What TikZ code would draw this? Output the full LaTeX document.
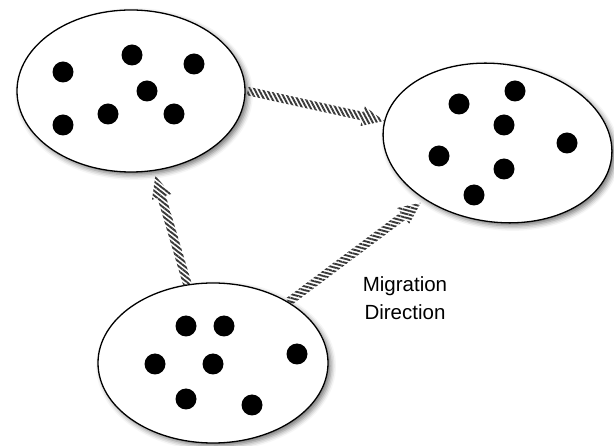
\documentclass[tikz,border=0pt]{standalone}
\usepackage{fontspec}
\setmainfont{Liberation Sans}
\usetikzlibrary{shapes.geometric,shadows.blur,patterns.meta,calc}
\tikzset{
  pop/.style={ellipse, draw=black, line width=1.3pt, fill=white, inner sep=0pt,
    blur shadow={shadow xshift=3pt, shadow yshift=-3pt, shadow blur radius=5pt, shadow opacity=55}},
  ind/.style={fill=black},
  stripes/.style={pattern={Lines[angle=#1,distance=3.7pt,line width=1.9pt]}, pattern color=black!78},
  lbl/.style={align=center, font=\fontsize{20.5}{27.5}\selectfont},
}
% #1 start, #2 tip, #3 stripe angle
\newcommand\hatcharrow[3]{%
  \coordinate (hb) at ($(#2)!22pt!(#1)$);
  \path[stripes=#3]
    ($(#1)!4.3pt!90:(#2)$) -- ($(hb)!4.3pt!90:(#2)$) -- ($(hb)!10pt!90:(#2)$) --
    (#2) --
    ($(hb)!10pt!-90:(#2)$) -- ($(hb)!4.3pt!-90:(#2)$) -- ($(#1)!4.3pt!-90:(#2)$) -- cycle;
}
\begin{document}
\begin{tikzpicture}[x=1pt,y=-1pt]
\useasboundingbox (0,0) rectangle (614,446);
% populations
\node[pop, minimum width=228pt, minimum height=162pt] (e1) at (131,91) {};
\node[pop, minimum width=230pt, minimum height=158pt, rotate=-8] (e2) at (497.5,143) {};
\node[pop, minimum width=230pt, minimum height=160pt] (e3) at (213,363) {};
% individuals
\foreach \p in {(63,72),(132,55),(194,64),(147,91),(108,114),(174,114),(63,125),
                (459,104),(515,91),(504,125),(567,143),(439,156),(504,169),(474,195),
                (186,326),(224,326),(155,364),(213,364),(297,354),(186,399),(252,405)}
  \fill[ind] \p circle (10.5);
% arrows
\coordinate (a1s) at ($(e1.east)+(2,0)$);
\coordinate (a1e) at (e2.177);
\coordinate (a2s) at (e3.108);
\coordinate (a2e) at ($(e1.-74)!5pt!(e3.108)$);
\coordinate (a3s) at (e3.39);
\coordinate (a3e) at ($(e2.226)+(-4,3)$);
\hatcharrow{a1s}{a1e}{-62}
\hatcharrow{a2s}{a2e}{-38}
\hatcharrow{a3s}{a3e}{-15}
% label
\node[lbl] (mig) at (405,298) {Migration\\Direction};
\end{tikzpicture}
\end{document}
